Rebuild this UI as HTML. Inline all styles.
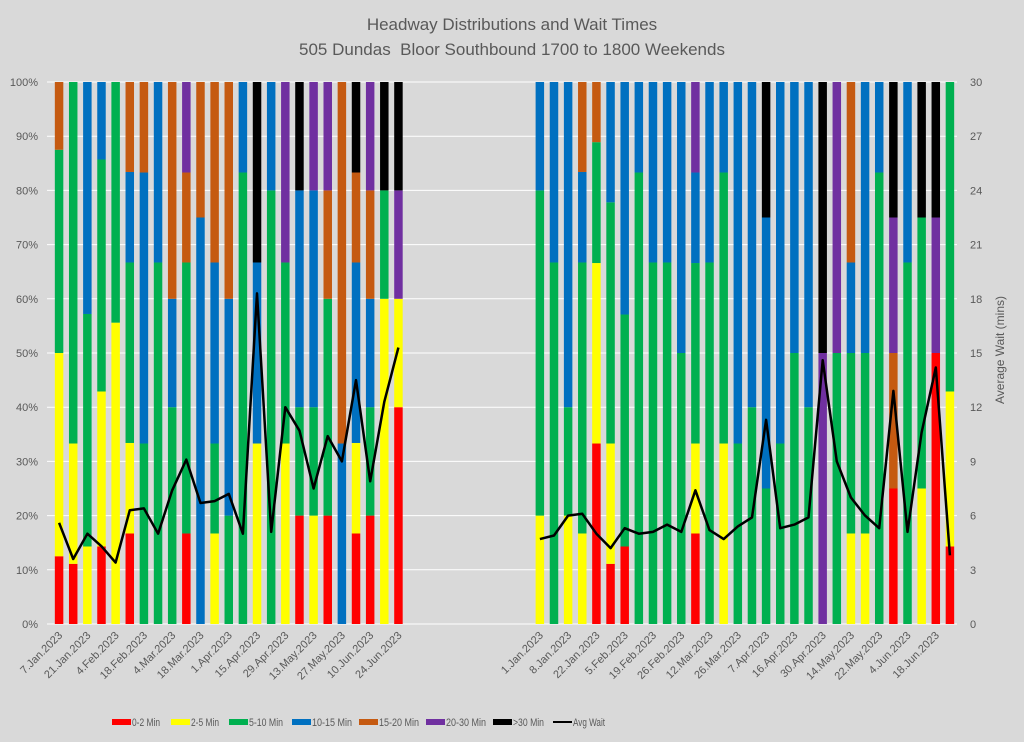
<!DOCTYPE html>
<html><head><meta charset="utf-8">
<style>
html,body{margin:0;padding:0;background:#d9d9d9;}
svg{display:block;font-family:"Liberation Sans",sans-serif;}
</style></head>
<body>
<svg id="chart" width="1024" height="742" viewBox="0 0 1024 742" xmlns="http://www.w3.org/2000/svg">
<rect x="0" y="0" width="1024" height="742" fill="#d9d9d9"/>
<text x="512" y="30" text-anchor="middle" font-size="17" fill="#595959">Headway Distributions and Wait Times</text>
<text x="512" y="55" text-anchor="middle" font-size="17" fill="#595959">505 Dundas&#160; Bloor Southbound 1700 to 1800 Weekends</text>
<g id="grid"></g><g id="bars"></g><g id="lines"></g><g id="axes"></g>
<text transform="translate(1004,350) rotate(-90)" text-anchor="middle" font-size="12" fill="#595959">Average Wait (mins)</text>
<g id="legend"></g>
</svg>
<script>
const categories = ["7.Jan.2023","14.Jan.2023","21.Jan.2023","28.Jan.2023","4.Feb.2023","11.Feb.2023","18.Feb.2023","25.Feb.2023","4.Mar.2023","11.Mar.2023","18.Mar.2023","25.Mar.2023","1.Apr.2023","8.Apr.2023","15.Apr.2023","22.Apr.2023","29.Apr.2023","6.May.2023","13.May.2023","20.May.2023","27.May.2023","3.Jun.2023","10.Jun.2023","17.Jun.2023","24.Jun.2023",
"","","","","","","","","",
"1.Jan.2023","2.Jan.2023","8.Jan.2023","15.Jan.2023","22.Jan.2023","29.Jan.2023","5.Feb.2023","12.Feb.2023","19.Feb.2023","20.Feb.2023","26.Feb.2023","5.Mar.2023","12.Mar.2023","19.Mar.2023","26.Mar.2023","2.Apr.2023","7.Apr.2023","9.Apr.2023","16.Apr.2023","23.Apr.2023","30.Apr.2023","7.May.2023","14.May.2023","21.May.2023","22.May.2023","28.May.2023","4.Jun.2023","11.Jun.2023","18.Jun.2023","25.Jun.2023"];
const showLabel = [1,0,1,0,1,0,1,0,1,0,1,0,1,0,1,0,1,0,1,0,1,0,1,0,1, 0,0,0,0,0,0,0,0,0, 1,0,1,0,1,0,1,0,1,0,1,0,1,0,1,0,1,0,1,0,1,0,1,0,1,0,1,0,1,0];
const min0_2 = [12.5,11.1,0,14.3,0,16.7,0,0,0,16.7,0,0,0,0,0,0,0,20,0,20,0,16.7,20,0,40, null,null,null,null,null,null,null,null,null, 0,0,0,0,33.3,11.1,14.3,0,0,0,0,16.7,0,0,0,0,0,0,0,0,0,0,0,0,0,25,0,0,50,14.3];
const min2_5 = [37.5,22.2,14.3,28.6,55.6,16.7,0,0,0,0,0,16.7,0,0,33.3,0,33.3,0,20,0,0,16.7,0,60,20, null,null,null,null,null,null,null,null,null, 20,0,20,16.7,33.3,22.2,0,0,0,0,0,16.6,0,33.3,0,0,0,0,0,0,0,0,16.7,16.7,0,0,0,25,0,28.6];
const min5_10 = [37.5,66.7,42.9,42.8,44.4,33.3,33.3,66.7,40,50,0,16.6,20,83.3,0,80,33.4,20,20,40,0,0,20,20,0, null,null,null,null,null,null,null,null,null, 60,66.7,20,50,22.3,44.5,42.8,83.3,66.7,66.7,50,33.3,66.7,50,33.3,40,25,33.3,50,40,0,50,33.3,33.3,83.3,0,66.7,50,0,57.1];
const min10_15 = [0,0,42.8,14.3,0,16.7,50,33.3,20,0,75,33.4,40,16.7,33.4,20,0,40,40,0,33.3,33.3,20,0,0, null,null,null,null,null,null,null,null,null, 20,33.3,60,16.7,0,22.2,42.9,16.7,33.3,33.3,50,16.7,33.3,16.7,66.7,60,50,66.7,50,60,0,0,16.7,50,16.7,0,33.3,0,0,0];
const min15_20 = [12.5,0,0,0,0,16.6,16.7,0,40,16.6,25,33.3,40,0,0,0,0,0,0,20,66.7,16.6,20,0,0, null,null,null,null,null,null,null,null,null, 0,0,0,16.6,11.1,0,0,0,0,0,0,0,0,0,0,0,0,0,0,0,0,0,33.3,0,0,25,0,0,0,0];
const min20_30 = [0,0,0,0,0,0,0,0,0,16.7,0,0,0,0,0,0,33.3,0,20,20,0,0,20,0,20, null,null,null,null,null,null,null,null,null, 0,0,0,0,0,0,0,0,0,0,0,16.7,0,0,0,0,0,0,0,0,50,50,0,0,0,25,0,0,25,0];
const min30plus = [0,0,0,0,0,0,0,0,0,0,0,0,0,0,33.3,0,0,20,0,0,0,16.7,0,20,20, null,null,null,null,null,null,null,null,null, 0,0,0,0,0,0,0,0,0,0,0,0,0,0,0,0,25,0,0,0,50,0,0,0,0,25,0,25,25,0];
const avgWait = [5.6,3.6,5.0,4.3,3.4,6.3,6.4,5.0,7.4,9.1,6.7,6.8,7.2,5.0,18.3,5.1,12.0,10.7,7.5,10.4,9.0,13.5,7.9,12.3,15.3, null,null,null,null,null,null,null,null,null, 4.7,4.9,6.0,6.1,5.0,4.2,5.3,5.0,5.1,5.5,5.1,7.4,5.2,4.7,5.4,5.9,11.3,5.3,5.5,5.9,14.6,9.0,7.0,6.0,5.3,12.9,5.1,10.6,14.2,3.8];
const seriesNames = ["0-2 Min","2-5 Min","5-10 Min","10-15 Min","15-20 Min","20-30 Min",">30 Min"];
const pctTicks = ["0%","10%","20%","30%","40%","50%","60%","70%","80%","90%","100%"];
const waitTicks = ["0","3","6","9","12","15","18","21","24","27","30"];

const NS="http://www.w3.org/2000/svg";
const series=[min0_2,min2_5,min5_10,min10_15,min15_20,min20_30,min30plus];
const colors=["#ff0000","#ffff00","#00b050","#0070c0","#c55a11","#7030a0","#000000"];
const PL=52,PR=957,PT=82,PB=624;
const band=(PR-PL)/categories.length;
const xC=i=>PL+band*(i+0.5);
const yP=v=>PB-(v/100)*(PB-PT);
const yW=v=>PB-(v/30)*(PB-PT);
function mk(tag,attrs,parent){const e=document.createElementNS(NS,tag);for(const k in attrs)e.setAttribute(k,attrs[k]);parent.appendChild(e);return e;}
const grid=document.getElementById('grid'),bars=document.getElementById('bars'),lines=document.getElementById('lines'),axes=document.getElementById('axes'),legend=document.getElementById('legend');

pctTicks.forEach((t,i)=>{
  const y=yP(i*10);
  const l=mk('line',{x1:PL-5,x2:PR,y1:y,y2:y,stroke:'#ffffff','stroke-width':1},grid);
  
  
  const tx=mk('text',{x:38,y:y+4,'text-anchor':'end','font-size':11,fill:'#595959'},axes);
  tx.textContent=t;
  
  
});
waitTicks.forEach((t,i)=>{
  const y=yW(+t);
  const tx=mk('text',{x:970,y:y+4,'font-size':11,fill:'#595959'},axes);
  tx.textContent=t;
  
  
});

const bw=band*0.6;
categories.forEach((c,i)=>{
  let base=0;
  series.forEach((s,k)=>{
    const v=s[i];
    if(v==null||v<=0)return;
    const r=mk('rect',{x:xC(i)-bw/2,y:yP(base+v),width:bw,height:yP(base)-yP(base+v),fill:colors[k]},bars);
    
    
    base+=v;
  });
  if(showLabel[i]&&c){
    const x=xC(i)+4,y=636;
    const tx=mk('text',{x:x,y:y,'text-anchor':'end','font-size':11,fill:'#595959',transform:`rotate(-45 ${x} ${y})`},axes);
    tx.textContent=c;
    
    
  }
});

let d='',pen=false;
avgWait.forEach((v,i)=>{
  if(v==null){pen=false;return;}
  d+=(pen?'L':'M')+xC(i).toFixed(1)+' '+yW(v).toFixed(1)+' ';
  pen=true;
});
const pth=mk('path',{d:d,fill:'none',stroke:'#000000','stroke-width':2.5,'stroke-linejoin':'round'},lines);



const legX=[112,171,229,292,359,426,493];
const legW=[28,28,34,40,40,40,31];
seriesNames.forEach((n,k)=>{
  const g=mk('g',{},legend);
  
  
  mk('rect',{x:legX[k],y:719,width:19,height:6,fill:colors[k]},g);
  const t=mk('text',{x:legX[k]+20,y:726,'font-size':11,fill:'#595959',textLength:legW[k],lengthAdjust:'spacingAndGlyphs'},g);
  t.textContent=n;
});
const g2=mk('g',{},legend);


mk('line',{x1:553,x2:572,y1:722,y2:722,stroke:'#000','stroke-width':2},g2);
const t2=mk('text',{x:573,y:726,'font-size':11,fill:'#595959',textLength:32,lengthAdjust:'spacingAndGlyphs'},g2);
t2.textContent='Avg Wait';
</script>
</body></html>
